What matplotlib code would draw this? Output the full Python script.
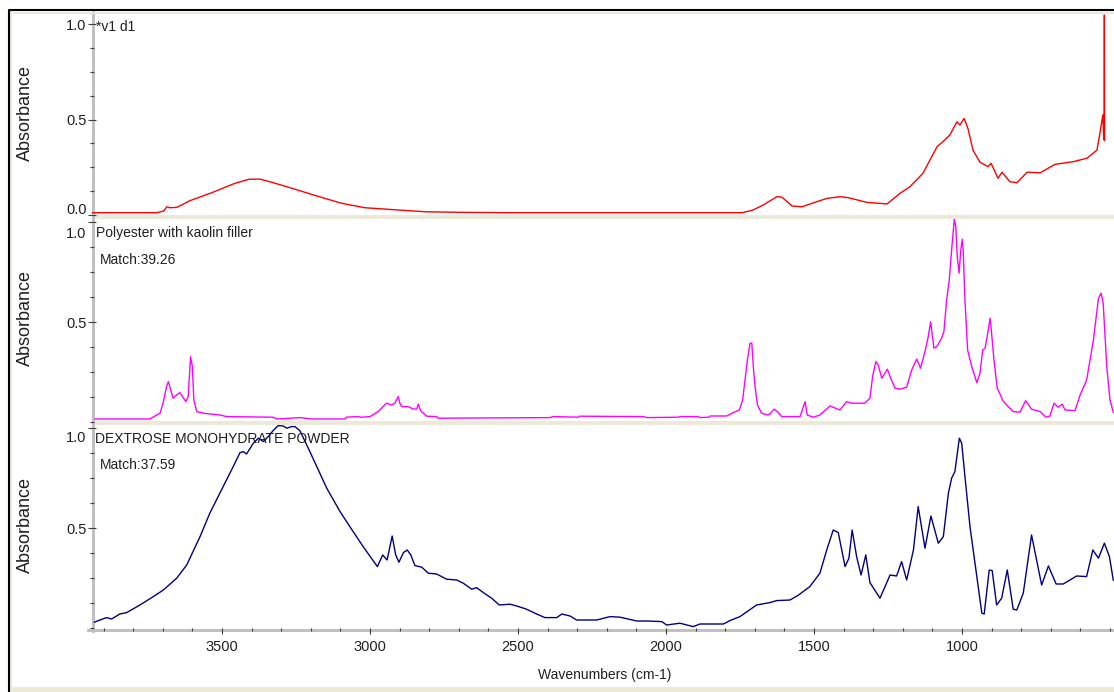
import matplotlib
matplotlib.use('Agg')
import matplotlib.pyplot as plt
import matplotlib.transforms as mtransforms
from matplotlib.lines import Line2D
from matplotlib.patches import Rectangle
from matplotlib.ticker import FixedLocator, MultipleLocator

plt.rcParams['font.family'] = ['Liberation Sans', 'DejaVu Sans']

# sample spectrum (*v1 d1)
top_wn = [3939, 3720, 3697, 3686, 3676, 3652, 3608, 3534, 3456, 3409, 3372, 3331, 3264,
          3172, 3095, 3017, 2902, 2814, 2699, 2530, 1743, 1706, 1672, 1625, 1608, 1574,
          1541, 1490, 1456, 1412, 1385, 1321, 1253, 1209, 1176, 1132, 1108, 1084, 1064,
          1041, 1017, 1007, 993, 980, 963, 939, 912, 902, 878, 865, 838, 814, 780, 736,
          686, 625, 578, 544, 534, 527, 524, 521, 520, 519, 518]
top_abs = [0.012, 0.012, 0.021, 0.043, 0.038, 0.040, 0.075, 0.117, 0.166, 0.187, 0.188,
           0.171, 0.140, 0.096, 0.061, 0.038, 0.026, 0.017, 0.014, 0.012, 0.012, 0.026,
           0.052, 0.096, 0.093, 0.047, 0.043, 0.070, 0.087, 0.096, 0.091, 0.066, 0.058,
           0.114, 0.148, 0.218, 0.288, 0.358, 0.384, 0.419, 0.488, 0.471, 0.506, 0.454,
           0.340, 0.276, 0.253, 0.271, 0.192, 0.224, 0.174, 0.169, 0.224, 0.221, 0.265,
           0.279, 0.297, 0.340, 0.428, 0.497, 0.524, 0.393, 0.46, 1.047, 0.39]

# library match 1: Polyester with kaolin filler
mid_wn = [3929, 3743, 3733, 3709, 3699, 3687, 3681, 3673, 3665, 3653, 3642, 3633, 3622,
          3614, 3606, 3600, 3595, 3585, 3563, 3507, 3484, 3328, 3314, 3236, 3197, 3084,
          3079, 3045, 3028, 3000, 2972, 2944, 2927, 2916, 2904, 2899, 2893, 2871, 2854,
          2842, 2837, 2829, 2808, 2775, 2769, 2392, 2382, 2296, 2291, 2077, 2065, 1958,
          1953, 1891, 1885, 1854, 1851, 1795, 1773, 1752, 1741, 1733, 1725, 1716, 1710,
          1705, 1699, 1691, 1677, 1660, 1649, 1635, 1624, 1609, 1570, 1547, 1530, 1523,
          1502, 1480, 1446, 1412, 1390, 1373, 1328, 1311, 1302, 1291, 1283, 1271, 1252,
          1241, 1226, 1209, 1187, 1170, 1153, 1140, 1125, 1114, 1106, 1095, 1085, 1069,
          1061, 1052, 1043, 1035, 1026, 1021, 1016, 1010, 1004, 999, 996, 990, 981, 967,
          950, 939, 930, 922, 913, 905, 900, 892, 881, 860, 827, 804, 785, 765, 736, 716,
          703, 689, 675, 661, 652, 618, 601, 579, 556, 539, 530, 523, 511, 500, 489]
mid_abs = [0.015, 0.015, 0.024, 0.044, 0.094, 0.177, 0.202, 0.160, 0.119, 0.135, 0.147,
           0.127, 0.102, 0.127, 0.327, 0.277, 0.110, 0.052, 0.044, 0.035, 0.027, 0.024,
           0.015, 0.022, 0.015, 0.015, 0.024, 0.027, 0.024, 0.027, 0.052, 0.094, 0.085,
           0.094, 0.127, 0.094, 0.077, 0.077, 0.065, 0.065, 0.090, 0.057, 0.029, 0.027,
           0.019, 0.022, 0.027, 0.024, 0.029, 0.027, 0.022, 0.024, 0.027, 0.027, 0.022,
           0.024, 0.030, 0.030, 0.047, 0.060, 0.110, 0.210, 0.310, 0.394, 0.394, 0.277,
           0.177, 0.085, 0.044, 0.035, 0.039, 0.064, 0.052, 0.027, 0.027, 0.027, 0.102,
           0.035, 0.024, 0.035, 0.080, 0.060, 0.102, 0.094, 0.094, 0.119, 0.227, 0.302,
           0.285, 0.219, 0.264, 0.219, 0.169, 0.164, 0.174, 0.260, 0.315, 0.269, 0.352,
           0.427, 0.502, 0.369, 0.377, 0.419, 0.452, 0.610, 0.710, 0.860, 1.014, 0.977,
           0.827, 0.744, 0.860, 0.914, 0.860, 0.610, 0.360, 0.277, 0.197, 0.244, 0.360,
           0.369, 0.444, 0.519, 0.444, 0.310, 0.169, 0.102, 0.052, 0.049, 0.107, 0.064,
           0.052, 0.024, 0.030, 0.094, 0.074, 0.089, 0.060, 0.057, 0.135, 0.210, 0.410,
           0.619, 0.644, 0.594, 0.277, 0.110, 0.049]

# library match 2: DEXTROSE MONOHYDRATE POWDER
bot_wn = [3931, 3912, 3890, 3873, 3845, 3822, 3777, 3732, 3698, 3653, 3619, 3574, 3541,
          3496, 3462, 3439, 3428, 3417, 3394, 3377, 3360, 3344, 3327, 3310, 3293, 3281,
          3265, 3253, 3236, 3203, 3146, 3101, 3068, 3023, 2975, 2957, 2942, 2925, 2913,
          2902, 2887, 2874, 2862, 2848, 2825, 2803, 2775, 2741, 2707, 2685, 2656, 2640,
          2617, 2589, 2563, 2527, 2504, 2471, 2437, 2409, 2369, 2352, 2324, 2302, 2268,
          2234, 2189, 2155, 2099, 2065, 2014, 1998, 1953, 1908, 1885, 1806, 1784, 1750,
          1694, 1649, 1626, 1581, 1553, 1514, 1480, 1457, 1435, 1418, 1395, 1382, 1371,
          1356, 1341, 1325, 1311, 1277, 1243, 1221, 1204, 1187, 1164, 1148, 1125, 1105,
          1080, 1063, 1046, 1035, 1024, 1009, 1001, 990, 973, 950, 933, 925, 908, 898,
          883, 866, 847, 827, 815, 793, 765, 731, 708, 682, 658, 635, 613, 579, 558, 539,
          519, 502, 489]
bot_abs = [0.029, 0.040, 0.052, 0.045, 0.070, 0.077, 0.115, 0.157, 0.190, 0.249, 0.315,
           0.457, 0.574, 0.707, 0.807, 0.877, 0.882, 0.870, 0.924, 0.949, 0.932, 0.957,
           0.987, 1.012, 1.010, 0.999, 1.007, 1.007, 0.985, 0.882, 0.699, 0.582, 0.507,
           0.407, 0.307, 0.365, 0.340, 0.460, 0.365, 0.329, 0.377, 0.390, 0.365, 0.312,
           0.304, 0.274, 0.270, 0.244, 0.240, 0.224, 0.194, 0.202, 0.177, 0.149, 0.115,
           0.119, 0.110, 0.094, 0.070, 0.052, 0.052, 0.070, 0.060, 0.040, 0.040, 0.040,
           0.057, 0.054, 0.035, 0.035, 0.032, 0.015, 0.024, 0.007, 0.020, 0.020, 0.037,
           0.057, 0.115, 0.127, 0.137, 0.140, 0.164, 0.207, 0.274, 0.390, 0.490, 0.477,
           0.307, 0.349, 0.490, 0.357, 0.265, 0.365, 0.227, 0.149, 0.265, 0.260, 0.332,
           0.240, 0.390, 0.607, 0.399, 0.560, 0.424, 0.457, 0.674, 0.749, 0.782, 0.949,
           0.924, 0.757, 0.507, 0.257, 0.074, 0.070, 0.290, 0.287, 0.115, 0.149, 0.290,
           0.094, 0.090, 0.174, 0.465, 0.215, 0.310, 0.220, 0.220, 0.240, 0.260, 0.257,
           0.390, 0.349, 0.424, 0.357, 0.240]

x_major = [3500, 3000, 2500, 2000, 1500, 1000]
x_labels = ['3500', '3000', '2500', '2000', '1500', '1000']

W, H = 1114, 692
txt = '#202020'
beige = '#ECE9D8'


def fx(px):
    return px / W


def fy(py):
    return 1 - py / H


fig = plt.figure(figsize=(W / 100, H / 100), dpi=100)
fig.patch.set_facecolor('white')


def make_panel(top, bottom, ytop, yt, ylab, ylabel_y):
    ax = fig.add_axes([fx(92), fy(bottom), fx(1114) - fx(92), fy(top) - fy(bottom)])
    ax.patch.set_visible(False)
    for s in ax.spines.values():
        s.set_visible(False)
    ax.set_xlim(3939, 486.5)
    ax.set_ylim(0, ytop)
    ax.set_yticks(yt)
    ax.set_yticklabels(ylab)
    ax.yaxis.set_minor_locator(FixedLocator([i * 0.125 for i in range(0, 9)]))
    ax.tick_params(axis='y', which='major', direction='inout', length=5.8, width=0.8,
                   color='#404040', pad=1, labelsize=10.5, labelcolor=txt)
    ax.tick_params(axis='y', which='minor', direction='inout', length=3, width=0.8,
                   color='#404040')
    ax.set_xticks([])
    fig.text(fx(25), fy(ylabel_y), 'Absorbance', rotation=90, ha='center', va='center',
             fontsize=13, color=txt)
    return ax


def shift_label(ax, text, dy_px):
    off = mtransforms.ScaledTranslation(0, dy_px / 100, fig.dpi_scale_trans)
    for t in ax.yaxis.get_major_ticks():
        if t.label1.get_text() == text:
            t.label1.set_transform(t.label1.get_transform() + off)


ax1 = make_panel(12, 215, 203 / 191, [0.0, 0.5, 1.0], ['0.0', '0.5', '1.0'], 113)
ax2 = make_panel(219, 422, 1.015, [0.5, 1.0], ['0.5', '1.0'], 318)
ax3 = make_panel(425, 628, 1.015, [0.5, 1.0], ['0.5', '1.0'], 525)

ax1.plot(top_wn, top_abs, color='#FF0000', lw=1.0)
ax2.plot(mid_wn, mid_abs, color='#FF00FF', lw=1.0)
ax3.plot(bot_wn, bot_abs, color='#000080', lw=1.0)

fig.canvas.draw()
shift_label(ax1, '0.0', 6)
shift_label(ax2, '1.0', -10)
shift_label(ax3, '1.0', -8)

ax3.set_xticks(x_major)
ax3.set_xticklabels(x_labels)
ax3.xaxis.set_minor_locator(MultipleLocator(100))
ax3.tick_params(axis='x', which='major', direction='out', length=4.3, width=0.8,
                color='#404040', pad=4, labelsize=10.5, labelcolor=txt)
ax3.tick_params(axis='x', which='minor', direction='out', length=2.2, width=0.8,
                color='#404040')

# panel captions
fig.text(fx(96), fy(27), '*v1 d1', ha='left', va='center', fontsize=10, color=txt)
fig.text(fx(96), fy(233), 'Polyester with kaolin filler', ha='left', va='center',
         fontsize=10, color=txt)
fig.text(fx(100), fy(260), 'Match:39.26', ha='left', va='center', fontsize=10, color=txt)
fig.text(fx(95), fy(439), 'DEXTROSE MONOHYDRATE POWDER', ha='left', va='center',
         fontsize=10, color=txt)
fig.text(fx(100), fy(465), 'Match:37.59', ha='left', va='center', fontsize=10, color=txt)
fig.text(fx(605), fy(675), 'Wavenumbers (cm-1)', ha='center', va='center', fontsize=10,
         color=txt)

# window furniture: separators, axis bars, frame
for y0, y1 in [(215, 218.5), (421, 424.5), (687, 692)]:
    x0 = 93 if y0 < 600 else 10
    fig.patches.append(Rectangle((fx(x0), fy(y1)), fx(1114) - fx(x0), fy(y0) - fy(y1),
                                 transform=fig.transFigure, facecolor=beige,
                                 edgecolor='none', zorder=-2))
fig.lines.append(Line2D([fx(92.5), fx(92.5)], [fy(12), fy(631)], transform=fig.transFigure,
                        color='#C0C0C0', lw=2.2, zorder=-1))
fig.lines.append(Line2D([fx(88), fx(1114)], [fy(629.5), fy(629.5)],
                        transform=fig.transFigure, color='#C0C0C0', lw=2.2, zorder=-1))
fig.lines.append(Line2D([fx(11), fx(11)], [fy(12), fy(692)], transform=fig.transFigure,
                        color=beige, lw=1.4, zorder=-1))
fig.lines.append(Line2D([fx(11), fx(1114)], [fy(12.5), fy(12.5)], transform=fig.transFigure,
                        color=beige, lw=1.4, zorder=-1))
fig.lines.append(Line2D([fx(8.5), fx(8.5), fx(1114)], [fy(692), fy(10), fy(10)],
                        transform=fig.transFigure, color='black', lw=1.5, zorder=-1))

fig.savefig('out.png', dpi=100)
